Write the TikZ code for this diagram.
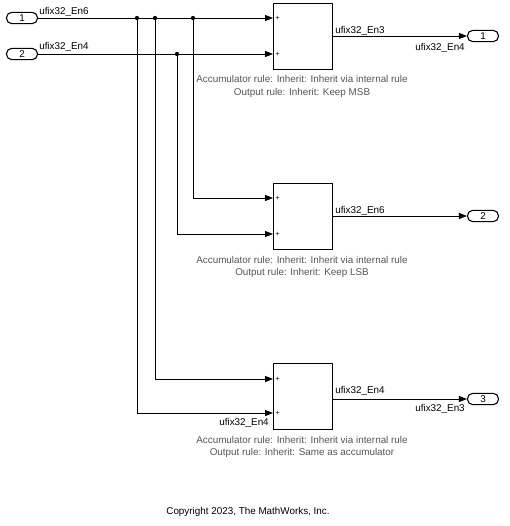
\documentclass[tikz,border=0pt]{standalone}
\usepackage{fontspec}
\setmainfont{Liberation Sans}
\usetikzlibrary{arrows.meta}
\definecolor{anno}{RGB}{85,85,85}
\tikzset{
  x=0.75pt, y=-0.75pt,
  sig/.style={line width=0.75pt, -{Triangle[length=6pt,width=4.5pt]}},
  port/.style={draw, line width=0.8pt, rounded corners=4pt, minimum width=23.25pt, minimum height=8.5pt, inner sep=0pt, font=\fontsize{7.4pt}{8pt}\selectfont},
  blk/.style={draw, line width=0.75pt, minimum width=44.25pt, minimum height=49.5pt, inner sep=0pt},
  lbl/.style={inner sep=0pt, font=\fontsize{7.4pt}{8pt}\selectfont},
  anno/.style={inner sep=0pt, text=anno, align=center, font=\fontsize{7.4pt}{9.2pt}\selectfont},
  plus/.style={inner sep=0pt, anchor=west, xshift=1.5pt, font=\fontsize{5.5pt}{6pt}\selectfont},
  dot/.style={circle, fill, inner sep=0pt, minimum size=3.2pt}
}
\begin{document}
\begin{tikzpicture}
\useasboundingbox (0,0) rectangle (510,526);
% inports
\node[port] (in1) at (22,18) {1};
\node[port] (in2) at (22,54) {2};
% blocks
\node[blk] (b1) at (302.5,36) {};
\node[blk] (b2) at (302.5,216) {};
\node[blk] (b3) at (302.5,396) {};
% outports
\node[port] (out1) at (483,36) {1};
\node[port] (out2) at (483,216) {2};
\node[port] (out3) at (483,399) {3};
% block input points
\coordinate (b1i1) at (273,18);
\coordinate (b1i2) at (273,54);
\coordinate (b2i1) at (273,198);
\coordinate (b2i2) at (273,234);
\coordinate (b3i1) at (273,379);
\coordinate (b3i2) at (273,413);
% junctions
\coordinate (j1) at (137,18);
\coordinate (j2) at (155,18);
\coordinate (j3) at (193,18);
\coordinate (j4) at (177,54);
% signals
\draw[sig] (in1.east) -- (b1i1);
\draw[sig] (in2.east) -- (b1i2);
\draw[sig] (j3) |- (b2i1);
\draw[sig] (j4) |- (b2i2);
\draw[sig] (j2) |- (b3i1);
\draw[sig] (j1) |- (b3i2);
\draw[sig] (b1.east |- out1) -- (out1.west);
\draw[sig] (b2.east |- out2) -- (out2.west);
\draw[sig] (b3.east |- out3) -- (out3.west);
\node[dot] at (j1) {};
\node[dot] at (j2) {};
\node[dot] at (j3) {};
\node[dot] at (j4) {};
% plus signs
\foreach \p in {b1i1,b1i2,b2i1,b2i2,b3i1,b3i2}
  \node[plus] at (\p) {+};
% signal labels
\node[lbl, anchor=west] (l1) at (39,12) {ufix32\_En6};
\node[lbl, anchor=west] (l2) at (39,47) {ufix32\_En4};
\node[lbl, anchor=west] (l3) at (335,31) {ufix32\_En3};
\node[lbl, anchor=east] (l4) at (465,48) {ufix32\_En4};
\node[lbl, anchor=west] (l5) at (335,211) {ufix32\_En6};
\node[lbl, anchor=west] (l6) at (335,391) {ufix32\_En4};
\node[lbl, anchor=east] (l7) at (465,409) {ufix32\_En3};
\node[lbl, anchor=east] (l8) at (269,423) {ufix32\_En4};
% annotations
\node[anno] (a1) at (302,86.5) {Accumulator rule: Inherit: Inherit via internal rule\\Output rule: Inherit: Keep MSB};
\node[anno] (a2) at (302,267) {Accumulator rule: Inherit: Inherit via internal rule\\Output rule: Inherit: Keep LSB};
\node[anno] (a3) at (302,447) {Accumulator rule: Inherit: Inherit via internal rule\\Output rule: Inherit: Same as accumulator};
\node[lbl] (copy) at (248,512) {Copyright 2023, The MathWorks, Inc.};
\end{tikzpicture}
\end{document}
